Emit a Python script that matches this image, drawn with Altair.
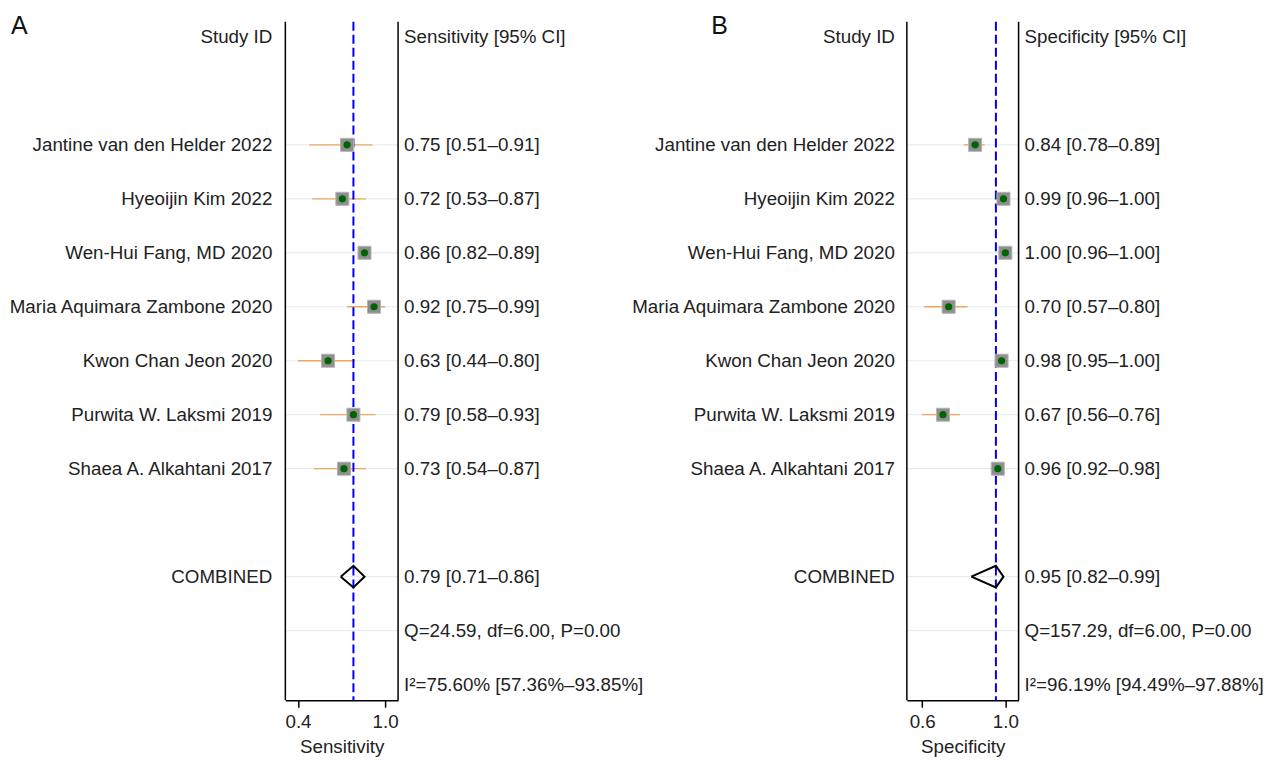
import altair as alt
import pandas as pd

FONT = "Liberation Sans"
FS = 18.8
TXT = "#222222"

studies = ["Jantine van den Helder 2022", "Hyeoijin Kim 2022", "Wen-Hui Fang, MD 2020",
           "Maria Aquimara Zambone 2020", "Kwon Chan Jeon 2020", "Purwita W. Laksmi 2019",
           "Shaea A. Alkahtani 2017"]
study_rows = [2, 3, 4, 5, 6, 7, 8]

sens_est = [0.75, 0.72, 0.86, 0.92, 0.63, 0.79, 0.73]
sens_lo = [0.51, 0.53, 0.82, 0.75, 0.44, 0.58, 0.54]
sens_hi = [0.91, 0.87, 0.89, 0.99, 0.80, 0.93, 0.87]
sens_comb = [0.79, 0.71, 0.86]
sens_q = "Q=24.59, df=6.00, P=0.00"
sens_i2 = "I²=75.60% [57.36%–93.85%]"

spec_est = [0.84, 0.99, 1.00, 0.70, 0.98, 0.67, 0.96]
spec_lo = [0.78, 0.96, 0.96, 0.57, 0.95, 0.56, 0.92]
spec_hi = [0.89, 1.00, 1.00, 0.80, 1.00, 0.76, 0.98]
spec_comb = [0.95, 0.82, 0.99]
spec_q = "Q=157.29, df=6.00, P=0.00"
spec_i2 = "I²=96.19% [94.49%–97.88%]"

header_row = 0
comb_row = 10
q_row = 11
i2_row = 12

H = 692
TOP = 12
yscale = alt.Scale(domain=[-0.50, 12.29], reverse=True, nice=False, zero=False)


def fmt(e, l, h):
    return f"{e:.2f} [{l:.2f}–{h:.2f}]"


def names_col(width, xpos, letter, letter_x):
    df = pd.DataFrame({"row": [header_row] + study_rows + [comb_row],
                       "label": ["Study ID"] + studies + ["COMBINED"]})
    t = alt.Chart(df).mark_text(align="right", baseline="middle", font=FONT,
                                fontSize=FS, color=TXT).encode(
        x=alt.value(xpos),
        y=alt.Y("row:Q", scale=yscale, axis=None),
        text="label:N")
    lab = alt.Chart(pd.DataFrame({"label": [letter]})).mark_text(
        align="left", baseline="alphabetic", font=FONT, fontSize=25, color="#111").encode(
        x=alt.value(letter_x), y=alt.value(24), text="label:N")
    return alt.layer(t, lab).properties(width=width, height=H)


def values_col(width, title, est, lo, hi, comb, q, i2):
    labels = [title] + [fmt(e, l, h) for e, l, h in zip(est, lo, hi)] + [fmt(*comb), q, i2]
    rows = [header_row] + study_rows + [comb_row, q_row, i2_row]
    df = pd.DataFrame({"row": rows, "label": labels})
    t = alt.Chart(df).mark_text(align="left", baseline="middle", font=FONT,
                                fontSize=FS, color=TXT).encode(
        x=alt.value(6),
        y=alt.Y("row:Q", scale=yscale, axis=None),
        text="label:N")
    return t.properties(width=width, height=H)


def forest(width, dom, title, est, lo, hi, comb):
    ticks = [min(lo), max(hi)]
    xs = alt.Scale(domain=dom, nice=False, zero=False)
    xax = alt.Axis(values=ticks, format=".1f", tickSize=7, labelPadding=5,
                   titlePadding=7, grid=False, domainWidth=1.5, tickWidth=1.5,
                   domainColor="black", tickColor="black")
    sd = pd.DataFrame({"row": study_rows, "est": est, "lo": lo, "hi": hi})
    grid_df = pd.DataFrame({"row": study_rows + [comb_row, q_row]})
    grid = alt.Chart(grid_df).mark_rule(color="#e4eeee", strokeWidth=1.2).encode(
        x=alt.value(0), x2=alt.value(width),
        y=alt.Y("row:Q", scale=yscale, axis=None))
    ci = alt.Chart(sd).mark_rule(color="#f0a85c", strokeWidth=1.3).encode(
        x=alt.X("lo:Q", scale=xs, axis=xax, title=title), x2="hi:Q",
        y=alt.Y("row:Q", scale=yscale, axis=None))
    sq = alt.Chart(sd).mark_square(filled=True, size=170, color="#8e8e8e",
                                   stroke="#b4b4b4", strokeWidth=1, opacity=1).encode(
        x=alt.X("est:Q", scale=xs), y=alt.Y("row:Q", scale=yscale))
    dot = alt.Chart(sd).mark_circle(size=52, color="#006400", opacity=1).encode(
        x=alt.X("est:Q", scale=xs), y=alt.Y("row:Q", scale=yscale))
    e, l, h = comb
    dh = 0.2
    dia = pd.DataFrame({"x": [l, e, h, e, l],
                        "row": [comb_row, comb_row - dh, comb_row, comb_row + dh, comb_row],
                        "o": [0, 1, 2, 3, 4]})
    diamond = alt.Chart(dia).mark_line(color="black", strokeWidth=2, strokeJoin="miter").encode(
        x=alt.X("x:Q", scale=xs), y=alt.Y("row:Q", scale=yscale), order="o:Q")
    dash = alt.Chart(pd.DataFrame({"e": [e]})).mark_rule(
        color="#0000ee", strokeWidth=2, strokeDash=[9, 4]).encode(
        x=alt.X("e:Q", scale=xs), y=alt.value(TOP), y2=alt.value(H))
    frame_df = pd.DataFrame({"p": [0, width]})
    frame = alt.Chart(frame_df).mark_rule(color="black", strokeWidth=1.5).encode(
        x=alt.X("p:Q", scale=None), y=alt.value(TOP), y2=alt.value(H))
    return alt.layer(grid, ci, dash, sq, dot, diamond, frame).properties(width=width, height=H)


c1 = names_col(277, 264, "A", 2)
c2 = forest(113, [0.36, 1.072], "Sensitivity", sens_est, sens_lo, sens_hi, sens_comb)
c3 = values_col(242, "Sensitivity [95% CI]", sens_est, sens_lo, sens_hi, sens_comb, sens_q, sens_i2)
c4 = names_col(268, 256, "B", 72)
c5 = forest(112, [0.479, 1.070], "Specificity", spec_est, spec_lo, spec_hi, spec_comb)
c6 = values_col(250, "Specificity [95% CI]", spec_est, spec_lo, spec_hi, spec_comb, spec_q, spec_i2)

chart = alt.hconcat(c1, c2, c3, c4, c5, c6, spacing=0, bounds="flush").properties(
    padding=0
).configure_view(stroke="transparent").configure_axis(
    labelFont=FONT, titleFont=FONT, labelFontSize=FS, titleFontSize=FS,
    titleFontWeight="normal", labelColor=TXT, titleColor=TXT
).configure_concat(spacing=0)

chart.save("out.html", embed_options={"renderer": "svg", "actions": False})
